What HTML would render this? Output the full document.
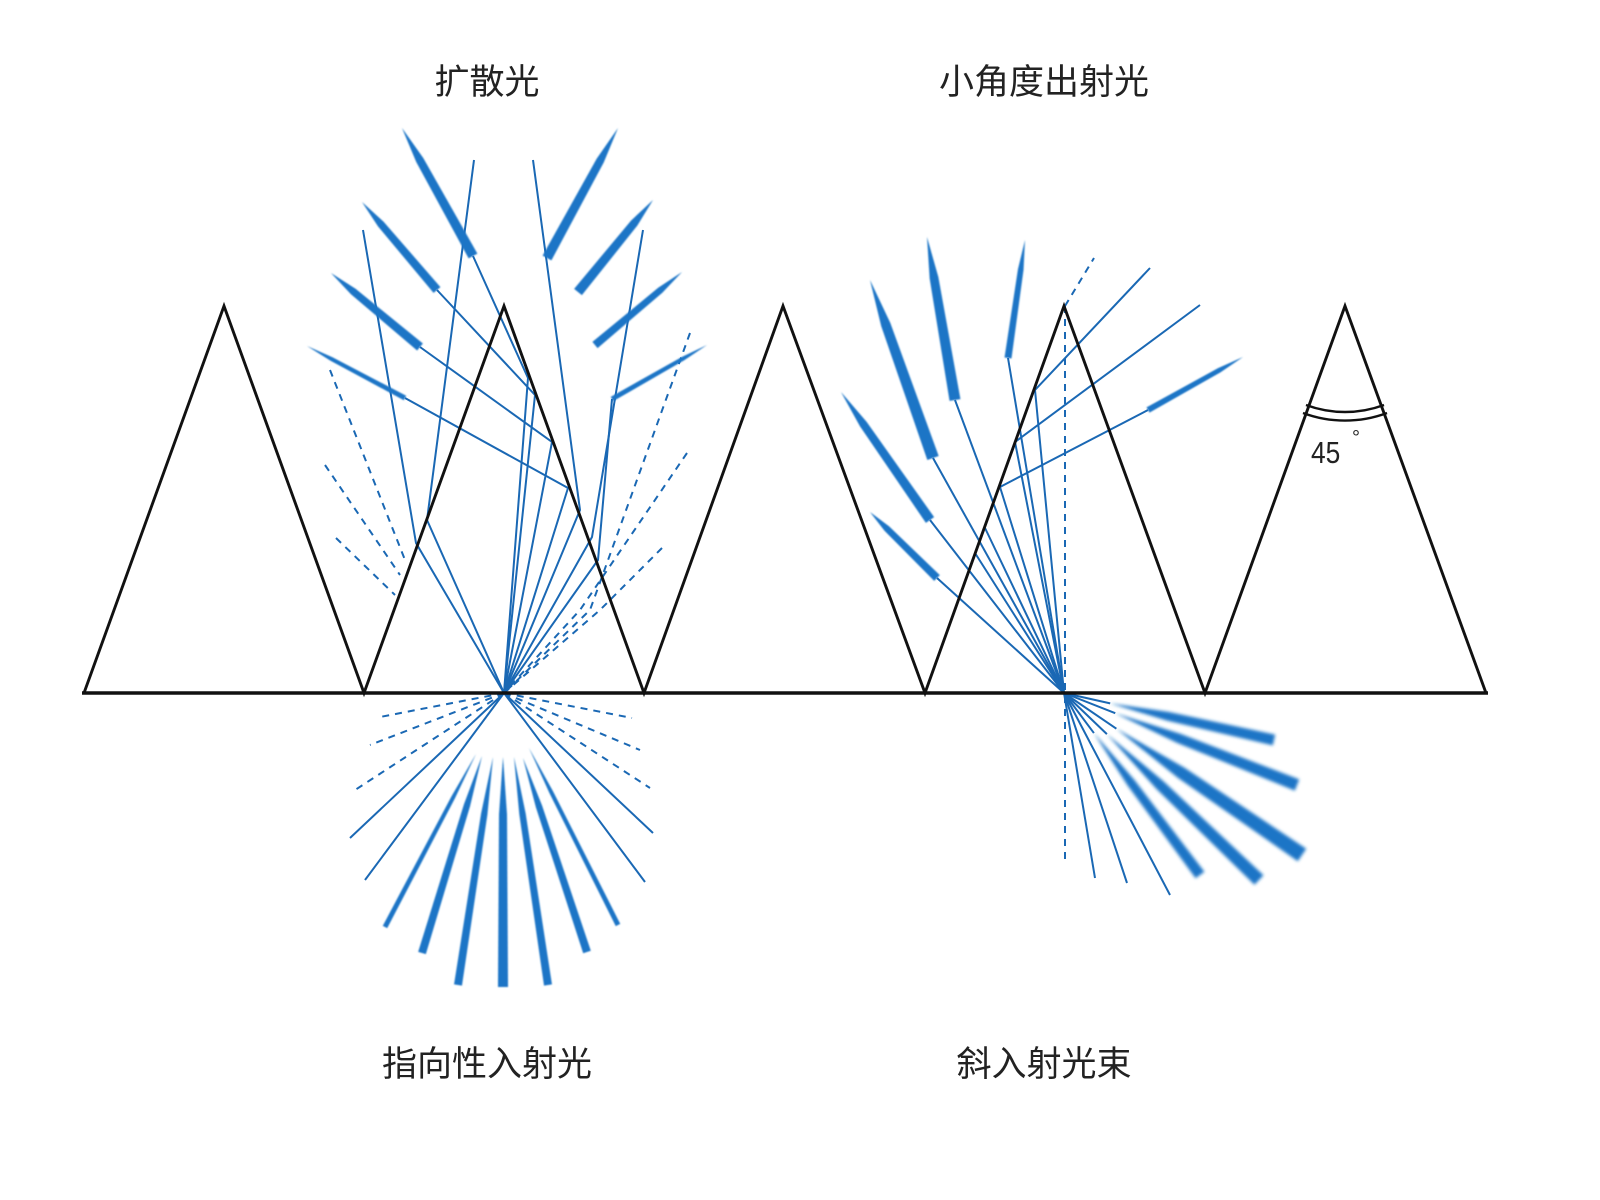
<!DOCTYPE html>
<html><head><meta charset="utf-8"><style>
html,body{margin:0;padding:0;background:#fff;}
svg{display:block;}
text{font-family:"Liberation Sans","Noto Sans CJK SC",sans-serif;fill:#222;}
</style></head><body>
<svg id="s" width="1600" height="1200" viewBox="0 0 1600 1200" xmlns="http://www.w3.org/2000/svg">
<defs><filter id="b" x="-20%" y="-20%" width="140%" height="140%"><feGaussianBlur stdDeviation="0.9"/></filter>
<filter id="b2" x="-20%" y="-20%" width="140%" height="140%"><feGaussianBlur stdDeviation="1.6"/></filter></defs>
<rect width="1600" height="1200" fill="#fff"/>
<g id="blue" fill="none" stroke="#1a68b4" stroke-width="2"></g>
<g id="blades" fill="#1a74c6" filter="url(#b)"></g>
<g id="blades2" fill="#1a74c6" filter="url(#b2)"></g>
<g fill="none" stroke="#111" stroke-width="2.9" stroke-linejoin="miter">
<polyline points="84,693 224,306 364,693 504,306 644,693 783,306 925,693 1064,306 1205,693 1345,306 1486,693"/>
<line x1="82" y1="693" x2="1488" y2="693" stroke-width="3.4"/>
<path d="M1306,405 A112,112 0 0 0 1384,405" stroke-width="2.4"/>
<path d="M1303,413 A120,120 0 0 0 1387,413" stroke-width="2.4"/>
</g>
<text x="487" y="94" font-size="35" text-anchor="middle">扩散光</text>
<text x="1044" y="94" font-size="35" text-anchor="middle">小角度出射光</text>
<text x="487" y="1076" font-size="35" text-anchor="middle">指向性入射光</text>
<text x="1044" y="1076" font-size="35" text-anchor="middle">斜入射光束</text>
<text x="1311" y="463" font-size="31" transform="translate(1311 463) scale(0.85 1) translate(-1311 -463)">45</text>
<text x="1352" y="444" font-size="20">°</text>
</svg>
<script>
var NS="http://www.w3.org/2000/svg";
var G=document.getElementById('blue'),B=document.getElementById('blades'),B2=document.getElementById('blades2');
function pl(pts,dash,w){var e=document.createElementNS(NS,'polyline');e.setAttribute('points',pts.map(function(p){return p.join(',')}).join(' '));if(dash)e.setAttribute('stroke-dasharray','7,6');if(w)e.setAttribute('stroke-width',w);G.appendChild(e);}
function blade(x1,y1,x2,y2,w){var dx=x2-x1,dy=y2-y1,L=Math.hypot(dx,dy),nx=-dy/L*w/2,ny=dx/L*w/2;
var mx=x1+dx*0.75,my=y1+dy*0.75;
var p=[[x1+nx,y1+ny],[mx+nx*0.8,my+ny*0.8],[x2,y2],[mx-nx*0.8,my-ny*0.8],[x1-nx,y1-ny]];
var e=document.createElementNS(NS,'polygon');e.setAttribute('points',p.map(function(q){return q.join(',')}).join(' '));B.appendChild(e);}
var O=[504,693];
pl([O,[528,378],[473,256]]);blade(473,256,402,128,10);
pl([O,[535,395],[437,290]]);blade(437,290,362,202,9);
pl([O,[552,442],[420,347]]);blade(420,347,331,273,9);
pl([O,[568,488],[405,398]]);blade(405,398,307,346,5);
pl([[474,160],[427,520],O]);pl([[363,230],[416,543],O]);
pl([[533,160],[580,510],O]);pl([[643,230],[592,537],O]);
blade(547,258,618,128,10);blade(578,292,653,200,10);blade(595,345,682,272,8);blade(612,399,707,345,5);
pl([O,[598,560],[612,399]]);
pl([[690,333],[590,610],O],1);pl([[687,453],[580,610],O],1);pl([[662,548],[600,610],O],1);
pl([[330,370],[405,560]],1);pl([[325,465],[400,575]],1);pl([[336,538],[395,595]],1);
pl([O,[380,717]],1);pl([O,[370,745]],1);pl([O,[352,792]],1);
pl([O,[632,718]],1);pl([O,[640,750]],1);pl([O,[650,788]],1);
pl([O,[350,838]]);pl([O,[365,880]]);
pl([O,[653,833]]);pl([O,[645,882]]);
blade(385,927,476,754,5);blade(618,925,529,748,5);
blade(422,953,482,756,8);blade(458,985,493,757,8);blade(503,987,503,757,10);blade(548,985,514,757,8);blade(587,952,523,758,8);
var P=[1064,693];
pl([P,[933,458]]);blade(933,458,870,280,12);
pl([P,[955,400]]);blade(955,400,927,237,11);
pl([P,[1008,358]]);blade(1008,358,1025,240,7);
pl([P,[930,520]]);blade(930,520,841,392,10);
pl([P,[937,578]]);blade(937,578,870,512,8);
pl([P,[1035,390],[1150,268]]);pl([P,[1015,442],[1200,305]]);
pl([P,[1000,487],[1148,410]]);blade(1148,410,1243,357,6);
pl([P,[985,528]]);pl([P,[975,553]]);
pl([[1065,306],[1065,860]],1);pl([[1065,306],[1094,258]],1);
pl([P,[1095,878]]);pl([P,[1127,883]]);pl([P,[1170,895]]);
[[1200,875],[1259,880],[1302,855],[1297,785],[1274,740]].forEach(function(e,i){
 var t=0.22;var sx=P[0]+(e[0]-P[0])*t,sy=P[1]+(e[1]-P[1])*t;pl([P,[sx,sy]]);
 var w=[11,13,15,12,11][i];
 var dx=e[0]-sx,dy=e[1]-sy,L=Math.hypot(dx,dy),nx=-dy/L,ny=dx/L;
 var m=0.35,mx=sx+dx*m,my=sy+dy*m;
 var pts=[[sx,sy],[mx+nx*w*0.4,my+ny*w*0.4],[e[0]+nx*w/2,e[1]+ny*w/2],[e[0]-nx*w/2,e[1]-ny*w/2],[mx-nx*w*0.4,my-ny*w*0.4]];
 var q=document.createElementNS(NS,'polygon');q.setAttribute('points',pts.map(function(z){return z.join(',')}).join(' '));B2.appendChild(q);
});
</script>
</body></html>
